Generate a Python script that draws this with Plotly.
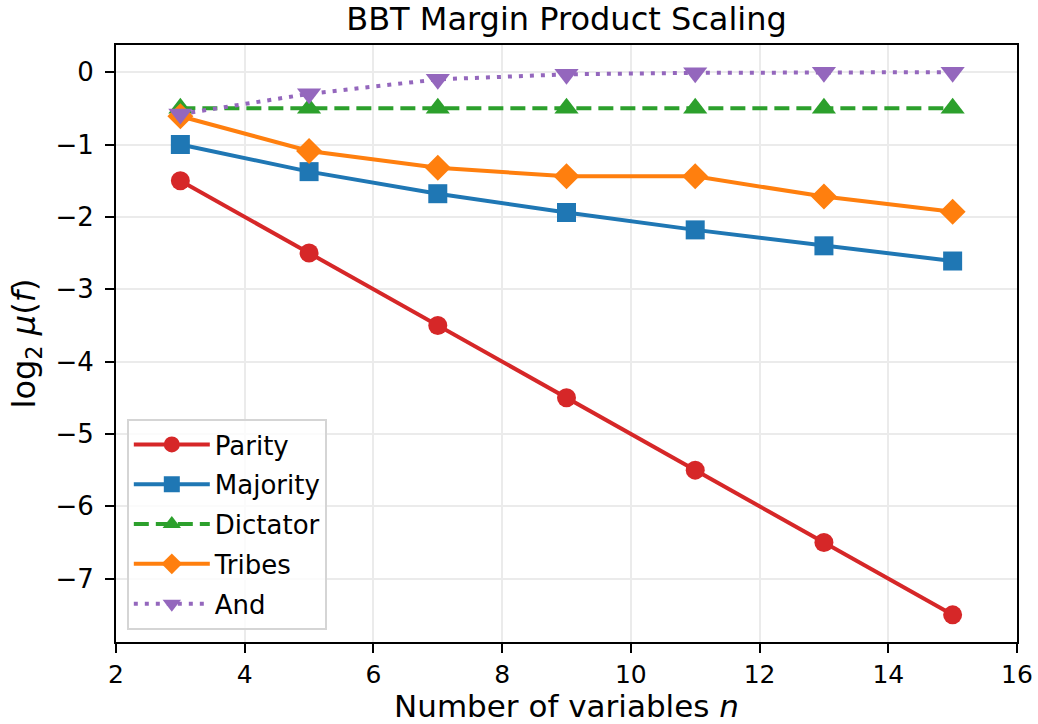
import plotly.graph_objects as go

n_vals = [3, 5, 7, 9, 11, 13, 15]
parity = [-1.5, -2.5, -3.5, -4.5, -5.5, -6.5, -7.5]
majority = [-1.0, -1.375, -1.68, -1.94, -2.18, -2.40, -2.61]
dictator = [-0.5, -0.5, -0.5, -0.5, -0.5, -0.5, -0.5]
tribes = [-0.61, -1.09, -1.32, -1.44, -1.44, -1.72, -1.93]
and_vals = [-0.58, -0.30, -0.10, -0.03, -0.01, 0.0, 0.0]

series = [
    ("Parity", parity, "#d62728", "circle", 19, "solid"),
    ("Majority", majority, "#1f77b4", "square", 19, "solid"),
    ("Dictator", dictator, "#2ca02c", "triangle-up", 21, "15px,7px"),
    ("Tribes", tribes, "#ff7f0e", "diamond", 20, "solid"),
    ("And", and_vals, "#9467bd", "triangle-down", 21, "4px,7px"),
]

fig = go.Figure()
for name, vals, color, sym, size, dash in series:
    fig.add_trace(go.Scatter(
        x=n_vals, y=vals, name=name, mode="lines+markers", legendgroup=name,
        line=dict(color=color, width=4, dash=dash),
        marker=dict(symbol=sym, size=size, color=color, line=dict(width=0)),
    ))

font_family = "DejaVu Sans"
fig.update_layout(
    width=1038, height=724,
    margin=dict(l=116, r=21, t=45, b=82),
    paper_bgcolor="white", plot_bgcolor="white",
    font=dict(family=font_family, color="black", size=26),
    title=dict(text="BBT Margin Product Scaling", x=0.5, xref="paper",
               y=1 - 19 / 724, yref="container", yanchor="middle",
               xanchor="center", font=dict(size=32, family=font_family)),
    legend=dict(x=0.012, y=0.02, xanchor="left", yanchor="bottom",
                bgcolor="rgba(255,255,255,0.8)", bordercolor="#d5d5d5",
                borderwidth=2, font=dict(size=26, family=font_family),
                itemwidth=76, tracegroupgap=3),
    showlegend=True,
)
fig.update_xaxes(
    range=[2, 16], dtick=2, tick0=2, automargin=False,
    showgrid=True, gridcolor="#ebebeb", gridwidth=2,
    showline=True, linecolor="black", linewidth=2, mirror=True,
    ticks="outside", ticklen=9, tickwidth=2, tickcolor="black",
    tickfont=dict(size=25), zeroline=False,
    title=dict(text="Number of variables <i>n</i>", font=dict(size=31), standoff=4),
)
fig.update_yaxes(
    range=[-7.875, 0.375], dtick=1, tick0=0, automargin=False,
    showgrid=True, gridcolor="#ebebeb", gridwidth=2,
    showline=True, linecolor="black", linewidth=2, mirror=True,
    ticks="outside", ticklen=9, tickwidth=2, tickcolor="black",
    tickfont=dict(size=26), zeroline=False, ticklabelstandoff=6,
    title=dict(text="log<sub>2</sub> <i>μ</i>(<i>f</i>)", font=dict(size=32), standoff=10),
)
fig.write_html(
    "out.html",
    config={"displayModeBar": False},
    post_script="document.body.style.margin='0';document.body.style.padding='0';",
)
